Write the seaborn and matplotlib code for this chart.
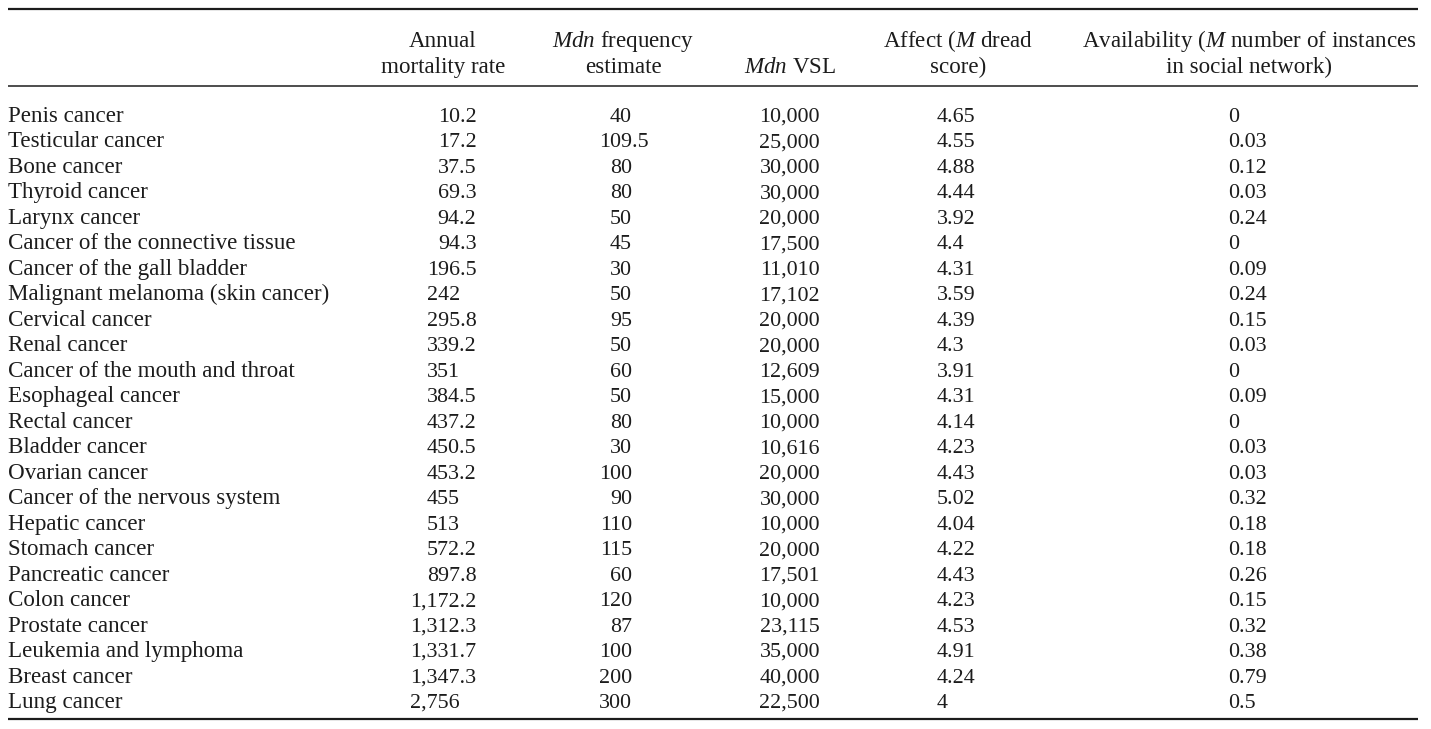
import matplotlib
matplotlib.use("Agg")
import matplotlib.pyplot as plt
import seaborn as sns
import pandas as pd

# table data
cancers = [
    "Penis cancer", "Testicular cancer", "Bone cancer", "Thyroid cancer",
    "Larynx cancer", "Cancer of the connective tissue", "Cancer of the gall bladder",
    "Malignant melanoma (skin cancer)", "Cervical cancer", "Renal cancer",
    "Cancer of the mouth and throat", "Esophageal cancer", "Rectal cancer",
    "Bladder cancer", "Ovarian cancer", "Cancer of the nervous system",
    "Hepatic cancer", "Stomach cancer", "Pancreatic cancer", "Colon cancer",
    "Prostate cancer", "Leukemia and lymphoma", "Breast cancer", "Lung cancer",
]
mortality = [10.2, 17.2, 37.5, 69.3, 94.2, 94.3, 196.5, 242, 295.8, 339.2,
             351, 384.5, 437.2, 450.5, 453.2, 455, 513, 572.2, 897.8, 1172.2,
             1312.3, 1331.7, 1347.3, 2756]
frequency = [40, 109.5, 80, 80, 50, 45, 30, 50, 95, 50, 60, 50, 80, 30, 100,
             90, 110, 115, 60, 120, 87, 100, 200, 300]
vsl = [10000, 25000, 30000, 30000, 20000, 17500, 11010, 17102, 20000, 20000,
       12609, 15000, 10000, 10616, 20000, 30000, 10000, 20000, 17501, 10000,
       23115, 35000, 40000, 22500]
affect = [4.65, 4.55, 4.88, 4.44, 3.92, 4.4, 4.31, 3.59, 4.39, 4.3, 3.91, 4.31,
          4.14, 4.23, 4.43, 5.02, 4.04, 4.22, 4.43, 4.23, 4.53, 4.91, 4.24, 4]
availability = [0, 0.03, 0.12, 0.03, 0.24, 0, 0.09, 0.24, 0.15, 0.03, 0, 0.09,
                0, 0.03, 0.03, 0.32, 0.18, 0.18, 0.26, 0.15, 0.32, 0.38, 0.79, 0.5]

headers = [
    ("Annual", "mortality rate"),
    ("$Mdn$ frequency", "estimate"),
    ("", "$Mdn$ VSL"),
    ("Affect ($M$ dread", "score)"),
    ("Availability ($M$ number of instances", "in social network)"),
]

df = pd.DataFrame({
    "cancer": cancers, "mortality": mortality, "frequency": frequency,
    "vsl": vsl, "affect": affect, "availability": availability,
})

sns.set_theme(style="white")
plt.rcParams["font.family"] = ["Liberation Serif", "DejaVu Serif"]
plt.rcParams["mathtext.fontset"] = "custom"
plt.rcParams["mathtext.rm"] = "Liberation Serif"
plt.rcParams["mathtext.it"] = "Liberation Serif:italic"

W, H = 1431, 729
fig = plt.figure(figsize=(W / 100, H / 100), dpi=100)
ax = fig.add_axes([0, 0, 1, 1])
ax.set_xlim(0, W)
ax.set_ylim(H, 0)
ax.axis("off")

fs_txt = 16.6   # labels and headers
fs_num = 15.8   # numbers
em_px = fs_num * 100 / 72   # digits are 0.5 em, '.' is 0.25 em in Liberation Serif
ink = "#1c1c1c"

# rules
ax.hlines(9, 8, 1418, color=ink, lw=1.6)
ax.hlines(86, 8, 1418, color=ink, lw=1.1)
ax.hlines(719, 8, 1418, color=ink, lw=1.6)

# header
head_x = [443, 623, 790, 958, 1249]
for x, (l1, l2) in zip(head_x, headers):
    if l1:
        ax.text(x, 47, l1, ha="center", va="baseline", fontsize=fs_txt, color=ink)
    ax.text(x, 73, l2, ha="center", va="baseline", fontsize=fs_txt, color=ink)

# body, decimal-aligned columns
cols = ["mortality", "frequency", "vsl", "affect", "availability"]
dec_x = [460, 632, 820, 948, 1239]
y0, step = 122, (708 - 122) / 23

for i, row in df.iterrows():
    y = y0 + i * step
    ax.text(8, y, row["cancer"], ha="left", va="baseline", fontsize=fs_txt, color=ink)
    for col, xd in zip(cols, dec_x):
        s = f"{row[col]:,g}"
        frac = s.partition(".")[2]
        frac_w = (0.25 + 0.5 * len(frac)) * em_px if frac else 0
        ax.text(xd + frac_w, y, s, ha="right", va="baseline", fontsize=fs_num, color=ink)

fig.savefig("out.png", dpi=100, facecolor="white")
